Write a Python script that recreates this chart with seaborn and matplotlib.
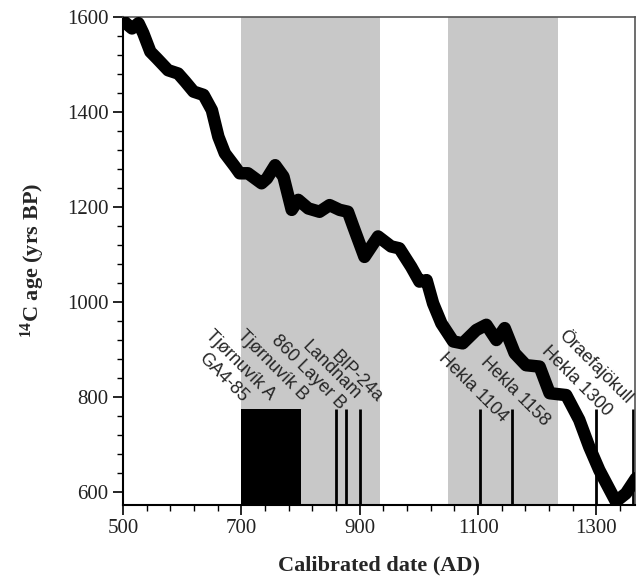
import matplotlib
matplotlib.use("Agg")
import matplotlib.pyplot as plt
import numpy as np
import pandas as pd
import seaborn as sns

# radiocarbon calibration curve
cal_year = [498, 515, 526, 534, 546, 557, 576, 593, 605, 619, 636, 650, 661, 672,
            689, 697, 711, 734, 743, 757, 771, 785, 796, 813, 832, 849, 866, 880,
            889, 908, 931, 953, 967, 987, 1001, 1013, 1024, 1038, 1058, 1074,
            1097, 1114, 1131, 1145, 1162, 1181, 1204, 1221, 1249, 1271, 1288,
            1305, 1333, 1350, 1367]
c14_age = [1594, 1576, 1587, 1566, 1527, 1513, 1488, 1481, 1464, 1443, 1436, 1404,
           1348, 1313, 1285, 1271, 1271, 1250, 1260, 1288, 1264, 1194, 1215, 1197,
           1190, 1204, 1194, 1190, 1159, 1095, 1138, 1117, 1113, 1074, 1043, 1046,
           997, 955, 917, 913, 941, 952, 920, 945, 892, 867, 864, 808, 804, 752,
           695, 646, 580, 597, 629]

# shaded periods
band_start = [700, 1050]
band_end = [935, 1235]

# tephra layers
block_start, block_end = 700, 800
block_names = ["GA4-85", "Tjørnuvík A", "Tjørnuvík B"]
line_names = ["860 Layer B", "Landnam", "BIP-24a",
              "Hekla 1104", "Hekla 1158", "Hekla 1300", "Öraefajökull"]
line_years = [860, 877, 900, 1104, 1158, 1300, 1362]
marker_top = 775

# label anchor points (end of each rotated label)
label_names = block_names + line_names
label_x = [706, 753, 807, 871, 897, 934, 1145, 1216, 1322, 1357]
label_y = [794, 800, 798, 779, 800, 794, 752, 745, 766, 792]

sns.set_style("ticks")
plt.rcParams["font.family"] = ["Liberation Serif", "DejaVu Serif"]
plt.rcParams["mathtext.fontset"] = "custom"
plt.rcParams["mathtext.rm"] = "Liberation Serif"
plt.rcParams["mathtext.bf"] = "Liberation Serif:bold"

fig = plt.figure(figsize=(6.38, 5.87), dpi=100)
ax = fig.add_axes([0.193, 0.140, 0.802, 0.831])

ylo, yhi = 573, 1600
xlo, xhi = 500, 1365

for s, e in zip(band_start, band_end):
    ax.axvspan(s, e, color="#c8c8c8", lw=0, zorder=0)

ax.fill_between([block_start, block_end], ylo, marker_top, color="black",
                lw=0, zorder=1)
ax.vlines(line_years, ylo, marker_top, color="black", lw=2, zorder=1)

df = pd.DataFrame({"year": cal_year, "age": c14_age})
sns.lineplot(data=df, x="year", y="age", sort=False, color="black", lw=9,
             solid_capstyle="round", solid_joinstyle="round", ax=ax, zorder=3)

for name, x, y in zip(label_names, label_x, label_y):
    ax.text(x, y, name, rotation=-45, rotation_mode="anchor", ha="right",
            va="center", fontsize=13, family=["Liberation Sans", "DejaVu Sans"],
            zorder=4)

ax.set_xlim(xlo, xhi)
ax.set_ylim(ylo, yhi)
ax.set_xticks(np.arange(500, 1301, 200))
ax.set_xticks(np.arange(500, 1361, 40), minor=True)
ax.set_yticks(np.arange(600, 1601, 200))
ax.set_yticks(np.arange(600, 1601, 40), minor=True)
ax.tick_params(which="major", length=7, width=1.2, labelsize=15, color="black",
               labelcolor="#222222")
ax.tick_params(which="minor", length=4, width=1.0, color="black")
for side in ["left", "bottom"]:
    ax.spines[side].set_linewidth(1.5)
    ax.spines[side].set_color("black")
for side in ["top", "right"]:
    ax.spines[side].set_linewidth(1.2)
    ax.spines[side].set_color("#555555")

ax.set_xlabel("Calibrated date (AD)", fontsize=16, fontweight="bold", labelpad=12)
ax.set_ylabel(r"$\mathbf{^{14}}$C age (yrs BP)", fontsize=16, fontweight="bold",
              labelpad=14)

fig.savefig("out.png", dpi=100)
